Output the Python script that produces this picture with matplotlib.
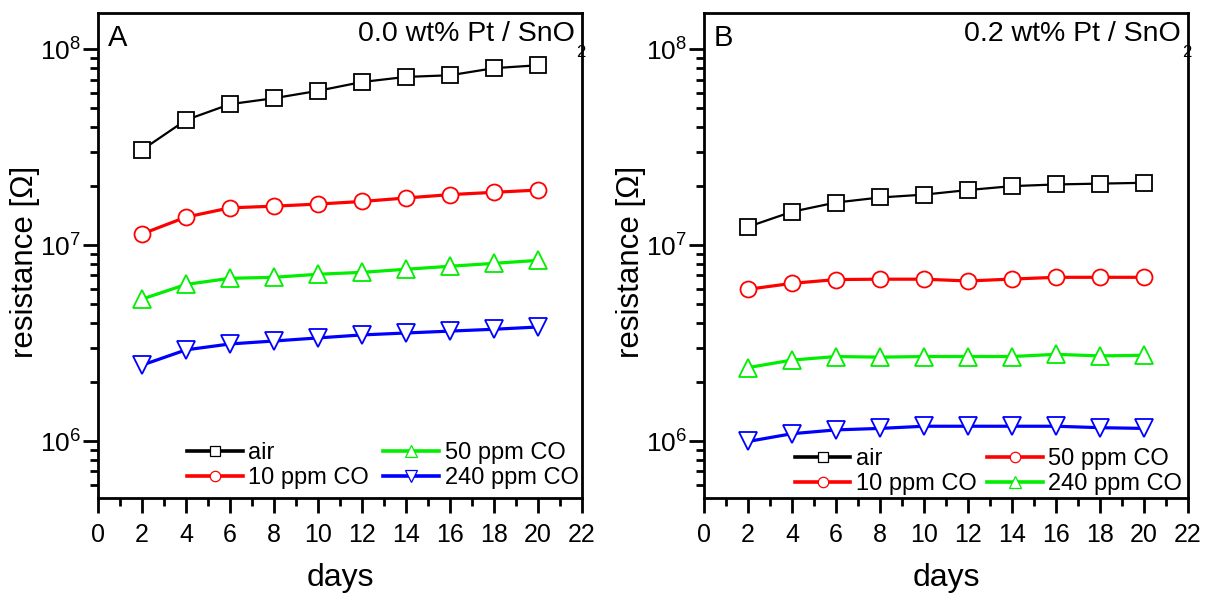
import math
import matplotlib
matplotlib.use("Agg")
import matplotlib.pyplot as plt
from matplotlib.lines import Line2D
from matplotlib.ticker import LogLocator, FuncFormatter, MultipleLocator, NullFormatter

plt.rcParams['font.family'] = ['Liberation Sans', 'DejaVu Sans']
plt.rcParams['mathtext.fontset'] = 'custom'
plt.rcParams['mathtext.rm'] = 'Liberation Sans'
plt.rcParams['mathtext.it'] = 'Liberation Sans:italic'
plt.rcParams['mathtext.bf'] = 'Liberation Sans:bold'

# measurement days
days = [2, 4, 6, 8, 10, 12, 14, 16, 18, 20]

# 0.0 wt% Pt / SnO2 resistances (Ohm)
a_air = [3.06e7, 4.35e7, 5.24e7, 5.62e7, 6.13e7, 6.80e7, 7.22e7, 7.36e7, 8.00e7, 8.28e7]
a_co10 = [1.14e7, 1.39e7, 1.55e7, 1.58e7, 1.62e7, 1.67e7, 1.74e7, 1.81e7, 1.86e7, 1.91e7]
a_co50 = [5.30e6, 6.30e6, 6.77e6, 6.85e6, 7.10e6, 7.26e6, 7.53e6, 7.80e6, 8.07e6, 8.36e6]
a_co240 = [2.44e6, 2.92e6, 3.13e6, 3.24e6, 3.36e6, 3.48e6, 3.56e6, 3.64e6, 3.72e6, 3.82e6]

# 0.2 wt% Pt / SnO2 resistances (Ohm)
b_air = [1.24e7, 1.48e7, 1.65e7, 1.75e7, 1.81e7, 1.91e7, 2.00e7, 2.04e7, 2.06e7, 2.08e7]
b_co10 = [5.95e6, 6.38e6, 6.67e6, 6.70e6, 6.70e6, 6.56e6, 6.71e6, 6.85e6, 6.85e6, 6.85e6]
b_co50 = [2.37e6, 2.59e6, 2.70e6, 2.68e6, 2.70e6, 2.70e6, 2.70e6, 2.77e6, 2.72e6, 2.74e6]
b_co240 = [0.995e6, 1.09e6, 1.14e6, 1.16e6, 1.19e6, 1.19e6, 1.19e6, 1.19e6, 1.17e6, 1.16e6]

panel_letters = ['A', 'B']
panel_titles = ['0.0 wt% Pt / SnO', '0.2 wt% Pt / SnO']
title_subscript = '2'
y_label = 'resistance [Ω]'
x_label = 'days'
legend_labels_a = ['air', '10 ppm CO', '50 ppm CO', '240 ppm CO']
legend_labels_b = ['air', '10 ppm CO', '50 ppm CO', '240 ppm CO']

BLACK = '#000000'
RED = '#ff0000'
GREEN = '#00ee00'
BLUE = '#0000ff'

series_style = [
    dict(color=BLACK, marker='s', ms=11, lw=1.6),
    dict(color=RED, marker='o', ms=11.5, lw=2.3),
    dict(color=GREEN, marker='^', ms=13, lw=2.3),
    dict(color=BLUE, marker='v', ms=13, lw=2.3),
]

W, H = 1208, 594
fig = plt.figure(figsize=(W / 100, H / 100), dpi=100)


def fx(px):
    return px / W


def fy(py):
    return 1 - py / H


AX_TOP, AX_BOT, AX_W = 13, 498, 484
ax_a = fig.add_axes([fx(98), fy(AX_BOT), AX_W / W, (AX_BOT - AX_TOP) / H])
ax_b = fig.add_axes([fx(704), fy(AX_BOT), AX_W / W, (AX_BOT - AX_TOP) / H])


def sci_label(v, pos):
    e = int(round(math.log10(v)))
    return r'10$^{%d}$' % e


def style_axes(ax):
    ax.set_yscale('log')
    ax.set_xlim(0, 22)
    ax.set_ylim(5.12e5, 1.53e8)
    ax.xaxis.set_major_locator(MultipleLocator(2))
    ax.xaxis.set_minor_locator(MultipleLocator(1))
    ax.yaxis.set_major_locator(LogLocator(base=10, numticks=10))
    ax.yaxis.set_minor_locator(LogLocator(base=10, subs=range(2, 10), numticks=20))
    ax.yaxis.set_major_formatter(FuncFormatter(sci_label))
    ax.yaxis.set_minor_formatter(NullFormatter())
    for s in ax.spines.values():
        s.set_linewidth(2.0)
    ax.tick_params(which='both', direction='out', top=False, right=False, width=2.0)
    ax.tick_params(axis='x', which='major', length=10.8, pad=7, labelsize=18)
    ax.tick_params(axis='x', which='minor', length=6)
    ax.tick_params(axis='y', which='major', length=10.8, pad=1.5, labelsize=19)
    ax.tick_params(axis='y', which='minor', length=6)
    ax.set_xlabel(x_label, fontsize=23, labelpad=12)


def draw_series(ax, ys):
    for y, st in zip(ys, series_style):
        ax.plot(days, y, color=st['color'], lw=st['lw'], marker=st['marker'],
                ms=st['ms'], mfc='white', mec=st['color'], mew=1.3, zorder=3)


def legend_handle(color, marker, ms):
    return Line2D([], [], color=color, lw=2.6, marker=marker, ms=ms,
                  mfc='white', mec=color, mew=0.9)


draw_series(ax_a, [a_air, a_co10, a_co50, a_co240])
draw_series(ax_b, [b_air, b_co10, b_co50, b_co240])

for ax, x0, letter, title in zip([ax_a, ax_b], [98, 704], panel_letters, panel_titles):
    style_axes(ax)
    fig.text(fx(x0 + 10), fy(24), letter, fontsize=21, ha='left', va='top')
    fig.text(fx(x0 + 477), fy(21), title, fontsize=20.5, ha='right', va='top')
    fig.text(fx(x0 + 478.5), fy(45), title_subscript, fontsize=12, ha='left', va='top')
    fig.text(fx(x0 - 73), fy(262), y_label, rotation=90,
             fontsize=22.5, ha='center', va='center')

handles_a = [legend_handle(BLACK, 's', 6.5), legend_handle(RED, 'o', 7.5),
             legend_handle(GREEN, '^', 8.5), legend_handle(BLUE, 'v', 8.5)]
handles_b = [legend_handle(BLACK, 's', 6.5), legend_handle(RED, 'o', 7.5),
             legend_handle(RED, 'o', 7.5), legend_handle(GREEN, '^', 8.5)]

leg_kw = dict(ncol=2, frameon=False, fontsize=17, loc='lower left',
              borderpad=0, handlelength=2.35, handletextpad=0.25,
              labelspacing=0.12, borderaxespad=0)
ax_a.legend(handles_a, legend_labels_a, bbox_to_anchor=(0.184, 0.018),
            columnspacing=0.6, **leg_kw)
ax_b.legend(handles_b, legend_labels_b, bbox_to_anchor=(0.188, 0.006),
            columnspacing=0.42, **leg_kw)

fig.savefig('out.png', dpi=100)
